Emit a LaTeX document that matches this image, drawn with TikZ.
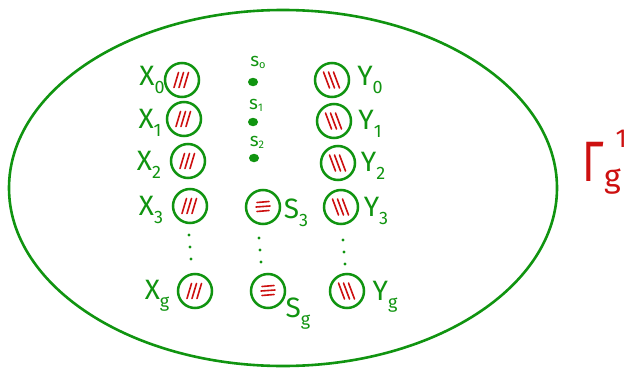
\documentclass[tikz,border=0pt]{standalone}
\usepackage{fontspec}
\usetikzlibrary{shapes.geometric}
\setmainfont{Fira Sans}
\definecolor{pen}{RGB}{16,148,16}
\definecolor{ink}{RGB}{205,16,16}
\newcommand\sbs[1]{\raisebox{-0.28em}{\fontsize{18}{19}\selectfont #1}}
\newcommand\ssbs[1]{\raisebox{-0.1em}{\fontsize{11}{12}\selectfont #1}}
\begin{document}
\begin{tikzpicture}[x=1pt,y=-1pt,
  hc/.style={circle,draw=pen,line width=2.5pt,minimum size=34pt,inner sep=0pt},
  dotn/.style={ellipse,fill=pen,minimum width=10pt,minimum height=8.5pt,inner sep=0pt},
  tiny/.style={circle,fill=pen,minimum size=3.4pt,inner sep=0pt},
  lab/.style={text=pen,font=\fontsize{28}{30}\selectfont,inner sep=0pt},
  slab/.style={text=pen,font=\fontsize{19}{20}\selectfont,inner sep=0pt},
  ht/.style={draw=ink,line width=1.6pt,line cap=round}]
\useasboundingbox (0,0) rectangle (628,369);
\node[draw=pen,line width=2.6pt,ellipse,minimum width=548pt,minimum height=356pt,inner sep=0pt] (ell) at (283,188) {};
% X column
\foreach \n/\x/\y in {x0/182/80,x1/184/119,x2/188/161,x3/190/206,xg/195/291}{
  \node[hc] (\n) at (\x,\y) {};
  \foreach \d in {-5,0,5}{\draw[ht] ([shift={(\d-3,7.5)}]\n.center) -- ([shift={(\d+1.5,-7.5)}]\n.center);}
}
% Y column
\foreach \n/\x/\y in {y0/332/80,y1/334/121,y2/338/163,y3/341/207,yg/347/291}{
  \node[hc] (\n) at (\x,\y) {};
  \foreach \d in {-5,0,5}{\draw[ht] ([shift={(\d-3.5,-8)}]\n.center) -- ([shift={(\d+2.5,8)}]\n.center);}
}
% S column
\node[dotn] (s0) at (253,82) {};
\node[dotn] (s1) at (253,122) {};
\node[dotn] (s2) at (254,158) {};
\foreach \n/\x/\y in {s3/263/207,sg/268/291}{
  \node[hc] (\n) at (\x,\y) {};
  \draw[ht] ([shift={(-6,-4.5)}]\n.center) -- ([shift={(6,-5.5)}]\n.center);
  \draw[ht] ([shift={(-7,0)}]\n.center) -- ([shift={(7,-1)}]\n.center);
  \draw[ht] ([shift={(-6,4.5)}]\n.center) -- ([shift={(6,3.5)}]\n.center);
}
% vertical dots
\foreach \n/\x/\y in {dx1/189/235,dx2/190/247,dx3/191/259,ds1/259/238,ds2/260/250,ds3/261/262,dy1/343/240,dy2/344/252,dy3/345/264}{
  \node[tiny] (\n) at (\x,\y) {};
}
% labels
\node[lab] (lx0) at (152,80) {X\sbs{0}};
\node[lab] (lx1) at (150,123) {X\sbs{1}};
\node[lab] (lx2) at (149,165) {X\sbs{2}};
\node[lab] (lx3) at (151,210) {X\sbs{3}};
\node[lab] (lxg) at (157,296) {X\sbs{g}};
\node[lab] (ly0) at (370,80) {Y\sbs{0}};
\node[lab] (ly1) at (370,124) {Y\sbs{1}};
\node[lab] (ly2) at (373,166) {Y\sbs{2}};
\node[lab] (ly3) at (376,211) {Y\sbs{3}};
\node[lab] (lyg) at (385,297) {Y\sbs{g}};
\node[lab] (ls3) at (296,213) {S\sbs{3}};
\node[lab] (lsg) at (298,314) {S\sbs{g}};
\node[slab] (ls0) at (258,62) {s\ssbs{o}};
\node[slab] (ls1) at (256,105) {s\ssbs{1}};
\node[slab] (ls2) at (257,142) {s\ssbs{2}};
% Gamma
\node[text=ink,font=\fontsize{57}{59}\selectfont,inner sep=0pt,xscale=0.75] (gam) at (593,162) {Γ};
\node[text=ink,font=\fontsize{32}{34}\selectfont,inner sep=0pt,anchor=north west] (gsub) at (604,169) {g};
\node[text=ink,font=\fontsize{26}{28}\selectfont,inner sep=0pt,anchor=south east] (gsup) at (627,148) {1};
\end{tikzpicture}
\end{document}
